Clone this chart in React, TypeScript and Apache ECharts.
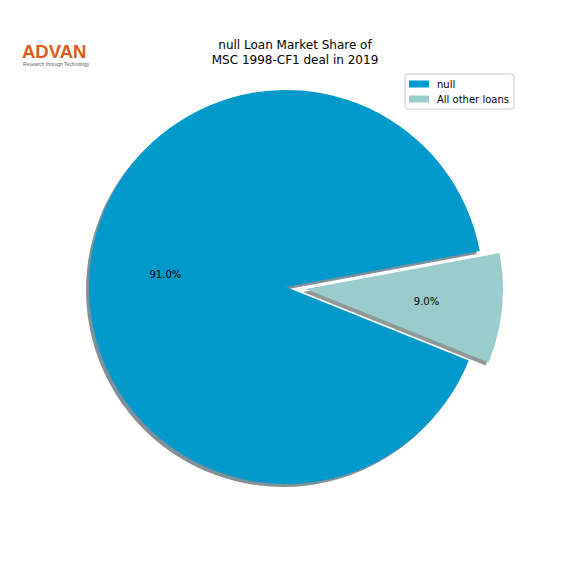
import React, { useEffect, useRef } from "react";
import * as echarts from "echarts";

const sliceNames = ["null", "All other loans"];
const sliceValues = [91, 9];
const sliceColors = ["#0099cc", "#99cccc"];
const shadowColors = ["#7f9099", "#8f9898"];
const titleLines = ["null Loan Market Share of", "MSC 1998-CF1 deal in 2019"];

const FONT = "DejaVu Sans, sans-serif";

const App = () => {
  const chartRef = useRef<HTMLDivElement>(null);

  useEffect(() => {
    if (!chartRef.current) return;
    document.body.style.margin = "0";

    const chart = echarts.init(chartRef.current, undefined, { renderer: "svg" });

    const center = [286, 287];
    const radius = 197;
    const startAngle = 10.5;

    const buildData = (colors: string[]) =>
      sliceNames.map((name, i) => ({
        name,
        value: sliceValues[i],
        selected: i === 1,
        itemStyle: { color: colors[i] },
      }));

    const pieBase = {
      type: "pie" as const,
      startAngle,
      clockwise: false,
      selectedMode: "single" as const,
      selectedOffset: 20,
      avoidLabelOverlap: false,
      emphasis: { disabled: true },
      labelLine: { show: false },
    };

    const option: echarts.EChartsOption = {
      animation: false,
      legend: {
        orient: "vertical",
        left: 405,
        top: 74,
        padding: [4, 5, 4, 4],
        itemGap: 3,
        itemWidth: 20,
        itemHeight: 7,
        borderColor: "#cccccc",
        borderWidth: 1,
        borderRadius: 3,
        backgroundColor: "#ffffff",
        selectedMode: false,
        icon: "rect",
        textStyle: {
          fontFamily: FONT,
          fontSize: 10,
          color: "#000000",
          lineHeight: 12,
          padding: [0, 0, 0, 3],
        },
        data: sliceNames.map((name, i) => ({
          name,
          itemStyle: { color: sliceColors[i] },
        })),
      },
      graphic: [
        {
          type: "text",
          x: 22,
          y: 42,
          style: {
            text: "ADVAN",
            font: "bold 18.5px Liberation Sans, Arial, sans-serif",
            fill: "#dc5a22",
          },
        },
        {
          type: "text",
          x: 23,
          y: 61,
          style: {
            text: "Research through Technology",
            font: "5px Liberation Sans, Arial, sans-serif",
            fill: "#666666",
          },
        },
        {
          type: "text",
          x: 295,
          y: 37,
          style: {
            text: titleLines.join("\n"),
            align: "center",
            font: `12px ${FONT}`,
            lineHeight: 15,
            fill: "#000000",
          },
        },
      ],
      series: [
        {
          ...pieBase,
          name: "share",
          z: 3,
          center,
          radius,
          label: { show: false },
          data: buildData(sliceColors),
        },
        {
          ...pieBase,
          name: "shadow",
          z: 1,
          silent: true,
          center: [center[0] - 3, center[1] + 3],
          radius,
          label: { show: false },
          data: buildData(shadowColors),
        },
        {
          ...pieBase,
          name: "labels",
          z: 5,
          silent: true,
          center,
          radius: radius * 1.2,
          label: {
            show: true,
            position: "inner",
            fontFamily: FONT,
            fontSize: 10,
            color: "#000000",
            formatter: (p: any) => p.percent.toFixed(1) + "%",
          },
          data: buildData(["rgba(0,0,0,0)", "rgba(0,0,0,0)"]),
        },
      ],
    };

    chart.setOption(option);

    const handleResize = () => chart.resize();
    window.addEventListener("resize", handleResize);

    return () => {
      chart.dispose();
      window.removeEventListener("resize", handleResize);
    };
  }, []);

  return <div ref={chartRef} style={{ width: "576px", height: "576px" }} />;
};

export default App;
